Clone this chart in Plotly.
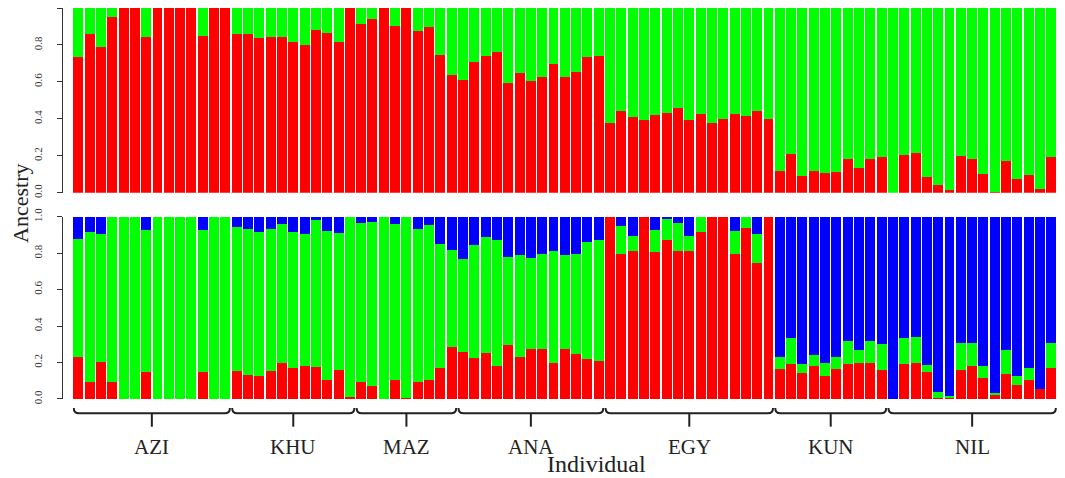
"""STRUCTURE ancestry bars, K=2 (top) and K=3 (bottom)"""
import plotly.graph_objects as go

groups = ["AZI", "KHU", "MAZ", "ANA", "EGY", "KUN", "NIL"]
group_sizes = [14, 11, 9, 13, 15, 10, 15]

# K=2: red cluster proportion per individual (green is the rest)
k2_red = [0.733, 0.86, 0.787, 0.951, 1.0, 1.0, 0.845, 1.0, 1.0, 1.0, 1.0, 0.849, 1.0, 1.0,
          0.858, 0.86, 0.836, 0.842, 0.842, 0.818, 0.8, 0.882, 0.864, 0.818, 1.0,
          0.915, 0.94, 1.0, 0.9, 1.0, 0.876, 0.896, 0.745, 0.636,
          0.609, 0.709, 0.74, 0.764, 0.596, 0.649, 0.604, 0.627, 0.695, 0.624, 0.653, 0.733, 0.742,
          0.376, 0.445, 0.409, 0.396, 0.422, 0.433, 0.458, 0.395, 0.427, 0.376, 0.4, 0.427, 0.415, 0.44, 0.4,
          0.118, 0.209, 0.091, 0.115, 0.109, 0.113, 0.185, 0.136, 0.18, 0.196,
          0.0, 0.205, 0.213, 0.087, 0.042, 0.015, 0.2, 0.185, 0.1, 0.005, 0.173, 0.076, 0.096, 0.018, 0.195]

# K=3: red and green proportions (blue is the rest)
k3_red = [0.232, 0.095, 0.201, 0.095, 0.0, 0.0, 0.146, 0.0, 0.0, 0.0, 0.0, 0.146, 0.0, 0.0,
          0.155, 0.132, 0.128, 0.155, 0.196, 0.168, 0.181, 0.174, 0.106, 0.161, 0.013,
          0.095, 0.069, 0.0, 0.104, 0.007, 0.095, 0.106, 0.168, 0.287,
          0.256, 0.223, 0.254, 0.183, 0.296, 0.232, 0.274, 0.276, 0.196, 0.272, 0.245, 0.218, 0.21,
          1.0, 0.795, 0.814, 1.0, 0.808, 0.874, 0.812, 0.812, 0.918, 1.0, 1.0, 0.793, 0.94, 0.744, 1.0,
          0.165, 0.194, 0.141, 0.183, 0.126, 0.163, 0.194, 0.199, 0.199, 0.159,
          0.0, 0.19, 0.196, 0.15, 0.007, 0.007, 0.157, 0.179, 0.117, 0.027, 0.135, 0.075, 0.106, 0.057, 0.168]
k3_green = [0.644, 0.819, 0.704, 0.905, 1.0, 1.0, 0.781, 1.0, 1.0, 1.0, 1.0, 0.781, 1.0, 1.0,
            0.788, 0.80, 0.786, 0.777, 0.764, 0.75, 0.726, 0.808, 0.817, 0.751, 0.987,
            0.868, 0.904, 1.0, 0.856, 0.993, 0.835, 0.848, 0.68, 0.53,
            0.512, 0.622, 0.636, 0.689, 0.485, 0.558, 0.497, 0.521, 0.616, 0.518, 0.55, 0.641, 0.66,
            0.0, 0.154, 0.082, 0.0, 0.119, 0.111, 0.151, 0.084, 0.082, 0.0, 0.0, 0.128, 0.06, 0.159, 0.0,
            0.067, 0.142, 0.049, 0.058, 0.07, 0.066, 0.124, 0.07, 0.119, 0.144,
            0.0, 0.143, 0.146, 0.036, 0.033, 0.011, 0.148, 0.13, 0.066, 0.004, 0.132, 0.051, 0.062, 0.0, 0.141]

n = len(k2_red)
ind = list(range(1, n + 1))
k2_green = [1 - r for r in k2_red]
k3_blue = [max(0.0, 1 - r - g) for r, g in zip(k3_red, k3_green)]

RED, GREEN, BLUE = "#ff0000", "#00ff00", "#0000ff"
FONT = "Liberation Serif"

fig = go.Figure()
for ys, c in [(k2_red, RED), (k2_green, GREEN)]:
    fig.add_trace(go.Bar(x=ind, y=ys, marker_color=c, marker_line_width=0,
                         xaxis="x", yaxis="y", showlegend=False))
for ys, c in [(k3_red, RED), (k3_green, GREEN), (k3_blue, BLUE)]:
    fig.add_trace(go.Bar(x=ind, y=ys, marker_color=c, marker_line_width=0,
                         xaxis="x2", yaxis="y2", showlegend=False))

xdom = [0.0107, 1]
yax = dict(range=[0, 1], anchor="free", position=0, showline=True, linecolor="#333",
           linewidth=1, ticks="outside", ticklen=5, tickcolor="#333", tickvals=[0, 0.2, 0.4, 0.6, 0.8, 1.0],
           tickformat=".1f", tickangle=-90, ticklabelstandoff=11, showgrid=False, zeroline=False,
           automargin=False, tickfont=dict(family=FONT, size=11, color="#333"))

# group brackets under the lower panel
shapes = []
annotations = []
start = 1
yl, yu, yd = -0.0366, -0.023, -0.0708
for g, s in zip(groups, group_sizes):
    x0, x1 = start - 0.4, start + s - 1 + 0.4
    xm = (x0 + x1) / 2
    d = 0.45
    shapes.append(dict(type="path", xref="x2", yref="paper",
                       path=f"M {x0},{yu} Q {x0},{yl} {x0 + d},{yl} L {x1 - d},{yl} Q {x1},{yl} {x1},{yu}",
                       line=dict(color="#222", width=2)))
    shapes.append(dict(type="line", xref="x2", yref="paper", x0=xm, x1=xm, y0=yl, y1=yd,
                       line=dict(color="#222", width=2)))
    annotations.append(dict(text=g, x=xm, y=-0.122, xref="x2", yref="paper", showarrow=False,
                            xanchor="center", yanchor="middle",
                            font=dict(family=FONT, size=21, color="#222")))
    start += s

annotations.append(dict(text="Individual", x=0.537, y=-0.1662, xref="paper", yref="paper",
                        showarrow=False, xanchor="center", yanchor="middle",
                        font=dict(family=FONT, size=24, color="#222")))
annotations.append(dict(text="Ancestry", x=-0.0412, y=0.499, xref="paper", yref="paper", textangle=-90,
                        showarrow=False, xanchor="center", yanchor="middle",
                        font=dict(family=FONT, size=22, color="#222")))

# page body adds an 8px margin, so the figure is 8px smaller than the window
fig.update_layout(
    width=1057, height=470,
    margin=dict(l=54, r=8, t=0, b=79),
    barmode="stack", bargap=0.12,
    paper_bgcolor="white", plot_bgcolor="white",
    xaxis=dict(domain=xdom, range=[0.5, n + 0.5], anchor="y", visible=False, automargin=False),
    xaxis2=dict(domain=xdom, range=[0.5, n + 0.5], anchor="y2", visible=False, matches="x",
                automargin=False),
    yaxis=dict(domain=[0.5276, 1.0], **yax),
    yaxis2=dict(domain=[0.0, 0.4662], **yax),
    shapes=shapes, annotations=annotations,
)
fig.write_html("out.html")
